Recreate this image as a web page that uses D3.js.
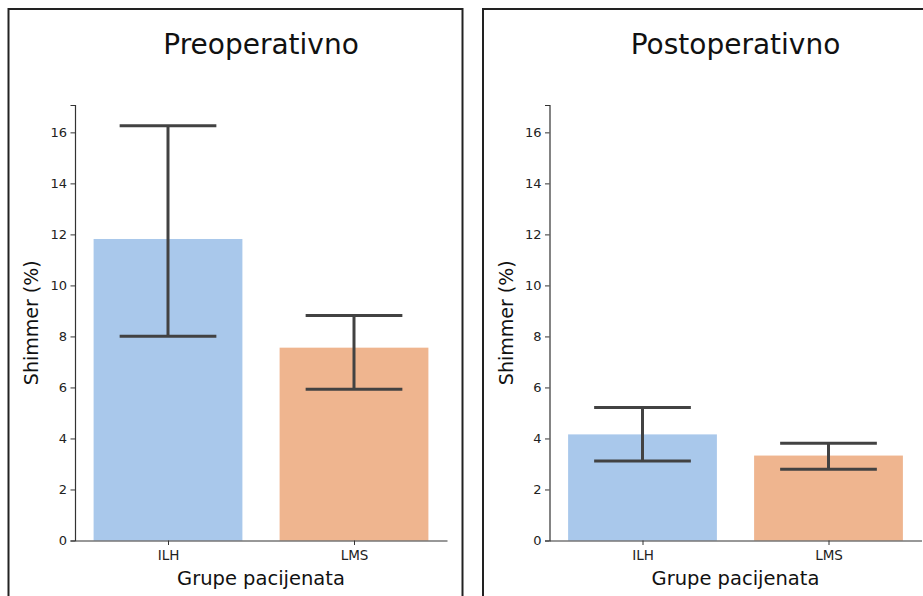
<!DOCTYPE html>
<html>
<head>
<meta charset="utf-8">
<script src="https://cdn.jsdelivr.net/npm/d3@7"></script>
<style>
  html, body { margin: 0; padding: 0; background: #fff; }
  svg { display: block; font-family: "DejaVu Sans", sans-serif; }
</style>
</head>
<body>
<svg id="chart" width="923" height="596"></svg>
<script>
// Shimmer (%) per patient group, before and after surgery
const groups = ["ILH", "LMS"];
const panelTitles = ["Preoperativno", "Postoperativno"];
const preMeans = [11.82, 7.56];
const preLower = [8.01, 5.93];
const preUpper = [16.26, 8.82];
const postMeans = [4.16, 3.33];
const postLower = [3.12, 2.79];
const postUpper = [5.21, 3.81];
const yTicks = [0, 2, 4, 6, 8, 10, 12, 14, 16];
const barColors = ["#a9c8eb", "#efb58f"];
const yLabel = "Shimmer (%)";
const xLabel = "Grupe pacijenata";

const panels = [
  { title: panelTitles[0], means: preMeans, lower: preLower, upper: preUpper },
  { title: panelTitles[1], means: postMeans, lower: postLower, upper: postUpper }
];

const svg = d3.select("#chart");

// shared y range: top of the largest error bar plus a 5% margin
const yMax = d3.max(panels.flatMap(p => p.upper)) * 1.05;
const y = d3.scaleLinear().domain([0, yMax]).range([540.5, 105]);

const barWidth = 0.8;
const capWidth = 0.52;
const errColor = "#424242";
const axisColor = "#333";

panels.forEach((p, i) => {
  const ox = i * 474.5;
  const g = svg.append("g").attr("transform", `translate(${ox},0)`);

  // figure frame around each subplot
  g.append("rect")
    .attr("x", 8.5).attr("y", 9)
    .attr("width", 454).attr("height", 620)
    .attr("fill", "none").attr("stroke", "#222").attr("stroke-width", 2);

  const x = d3.scaleLinear().domain([-0.5, 1.5]).range([75, 447]);
  const idx = groups.map((_, k) => k);

  // bars
  g.selectAll("rect.bar").data(idx).enter().append("rect")
    .attr("class", "bar")
    .attr("x", k => x(k - barWidth / 2))
    .attr("width", k => x(k + barWidth / 2) - x(k - barWidth / 2))
    .attr("y", k => y(p.means[k]))
    .attr("height", k => y(0) - y(p.means[k]))
    .attr("fill", k => barColors[k]);

  // error bars with caps
  const eb = g.selectAll("g.err").data(idx).enter().append("g").attr("class", "err")
    .attr("stroke", errColor).attr("stroke-width", 3).attr("fill", "none");
  eb.append("line")
    .attr("x1", k => x(k)).attr("x2", k => x(k))
    .attr("y1", k => y(p.lower[k])).attr("y2", k => y(p.upper[k]));
  eb.append("line")
    .attr("x1", k => x(k - capWidth / 2)).attr("x2", k => x(k + capWidth / 2))
    .attr("y1", k => y(p.upper[k])).attr("y2", k => y(p.upper[k]));
  eb.append("line")
    .attr("x1", k => x(k - capWidth / 2)).attr("x2", k => x(k + capWidth / 2))
    .attr("y1", k => y(p.lower[k])).attr("y2", k => y(p.lower[k]));

  // y axis
  const yAxis = g.append("g").attr("transform", `translate(${x(-0.5)},0)`)
    .call(d3.axisLeft(y).tickValues(yTicks).tickFormat(d3.format("d")).tickSize(4.5).tickPadding(3.5));
  yAxis.select(".domain").attr("stroke", axisColor).attr("stroke-width", 1.2);
  yAxis.selectAll(".tick line").attr("stroke", axisColor);
  yAxis.selectAll(".tick text").attr("font-size", 13).attr("fill", "#222")
    .attr("font-family", "DejaVu Sans");

  // x axis
  const xAxis = g.append("g").attr("transform", `translate(0,${y(0)})`)
    .call(d3.axisBottom(x).tickValues(idx).tickFormat(k => groups[k]).tickSize(4.5).tickPadding(5).tickSizeOuter(0));
  xAxis.select(".domain").attr("stroke", axisColor).attr("stroke-width", 1.2);
  xAxis.selectAll(".tick line").attr("stroke", axisColor);
  xAxis.selectAll(".tick text").attr("font-size", 13.5).attr("fill", "#222")
    .attr("font-family", "DejaVu Sans");

  // title
  g.append("text")
    .attr("x", (x(-0.5) + x(1.5)) / 2).attr("y", 54)
    .attr("text-anchor", "middle").attr("font-size", 28).attr("fill", "#111")
    .text(p.title);

  // axis labels
  g.append("text")
    .attr("x", (x(-0.5) + x(1.5)) / 2).attr("y", 585)
    .attr("text-anchor", "middle").attr("font-size", 19.5).attr("fill", "#111")
    .text(xLabel);
  g.append("text")
    .attr("transform", `translate(38,${(y(0) + y(yMax)) / 2}) rotate(-90)`)
    .attr("text-anchor", "middle").attr("font-size", 19).attr("fill", "#111")
    .text(yLabel);
});
</script>
</body>
</html>
